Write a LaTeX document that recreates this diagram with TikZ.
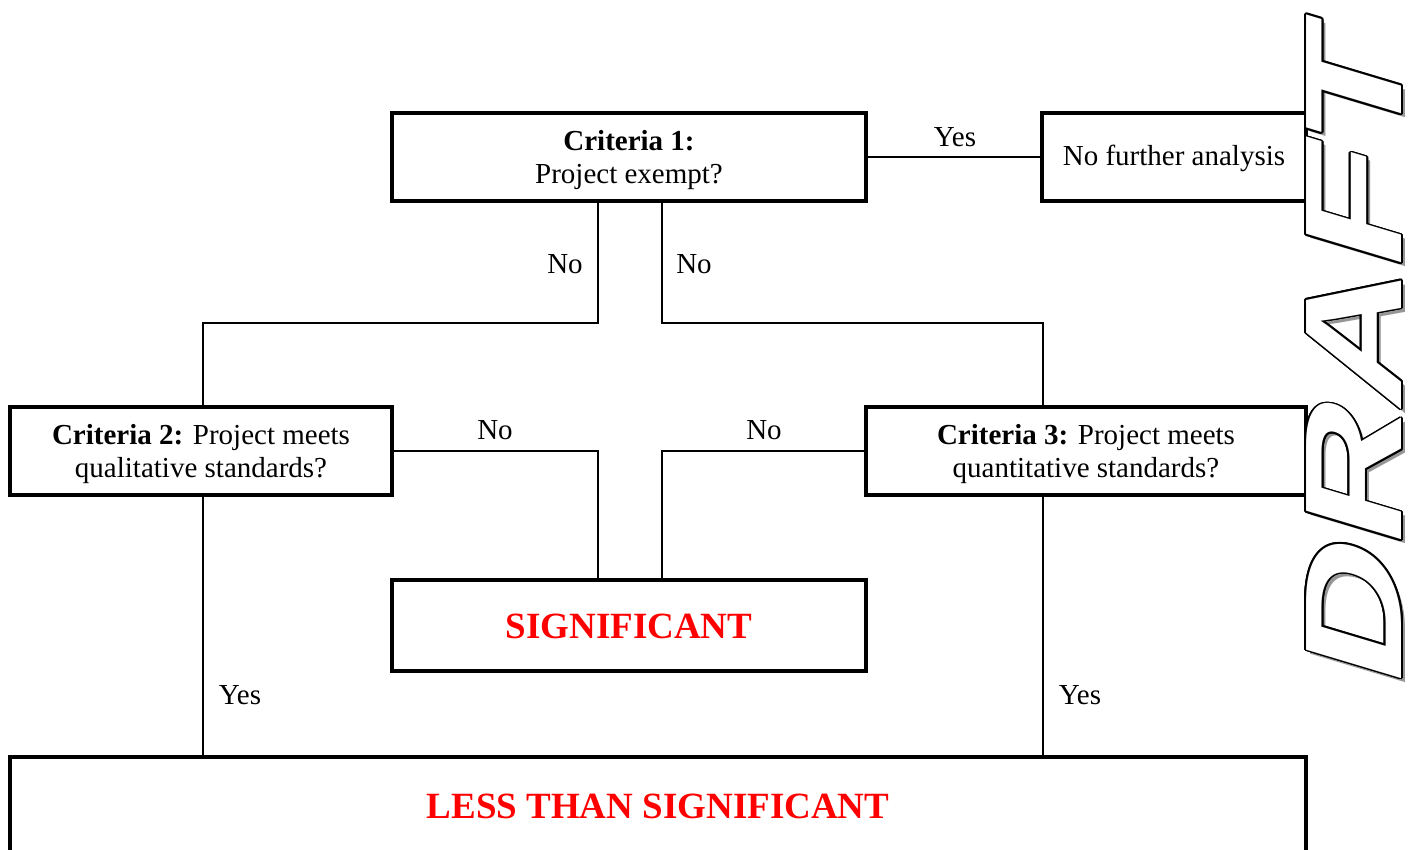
\documentclass[tikz,border=0pt]{standalone}
\usepackage{fontspec}
\setmainfont{Liberation Serif}
\newfontfamily\draftfont{Liberation Sans}
\definecolor{sigred}{RGB}{255,0,0}
\definecolor{shadowgray}{RGB}{150,150,150}
\begin{document}
\begin{tikzpicture}[x=1pt,y=-1pt,
  box/.style={draw, line width=3.2pt, inner sep=0pt, align=center, font=\fontsize{29}{33}\selectfont},
  conn/.style={line width=1.6pt},
  lbl/.style={font=\fontsize{29}{33}\selectfont, inner sep=0pt},
  redtext/.style={text=sigred, font=\fontsize{37}{40}\selectfont\bfseries},
  draftT/.style={transform shape, inner sep=0pt, font=\draftfont\bfseries\fontsize{138}{138}\selectfont}]
\useasboundingbox (0,0) rectangle (1415,849);
\clip (0,0) rectangle (1415,849);
\fill[white] (0,0) rectangle (1415,849);

% boxes
\node[box, minimum width=474pt, minimum height=88pt] (c1) at (629,157) {\rule{0pt}{26pt}\textbf{Criteria 1:}\\Project exempt?};
\node[box, minimum width=264pt, minimum height=88pt] (nfa) at (1174,157) {\rule{0pt}{24pt}No further analysis};
\node[box, minimum width=382pt, minimum height=88pt] (c2) at (201,451) {\rule{0pt}{26pt}\textbf{Criteria 2:} Project meets\\qualitative standards?};
\node[box, minimum width=440pt, minimum height=88pt] (c3) at (1086,451) {\rule{0pt}{26pt}\textbf{Criteria 3:} Project meets\\quantitative standards?};
\node[box, redtext, minimum width=474pt, minimum height=91pt] (sig) at (629,625.5) {\rule{0pt}{27pt}SIGNIFICANT};
\node[box, redtext, minimum width=1296pt, minimum height=98pt] (less) at (658,806) {LESS THAN SIGNIFICANT};

% helper coordinates
\coordinate (a) at (598,323);
\coordinate (b) at (662,323);
\coordinate (l) at (203,0);
\coordinate (r) at (1043,0);

% connectors
\draw[conn] (c1.east) -- (nfa.west);
\draw[conn] (c1.south -| a) -- (a) -- (a -| l) -- (l |- c2.north);
\draw[conn] (c1.south -| b) -- (b) -- (b -| r) -- (r |- c3.north);
\draw[conn] (c2.east) -| (sig.north -| a);
\draw[conn] (c3.west) -| (sig.north -| b);
\draw[conn] (l |- c2.south) -- (l |- less.north);
\draw[conn] (r |- c3.south) -- (r |- less.north);

% labels
\node[lbl] (y1) at (955,137) {Yes};
\node[lbl] (n1) at (565,264) {No};
\node[lbl] (n2) at (694,264) {No};
\node[lbl] (n3) at (495,430) {No};
\node[lbl] (n4) at (764,430) {No};
\node[lbl] (y2) at (240,695) {Yes};
\node[lbl] (y3) at (1080,695) {Yes};

% DRAFT watermark
\begin{scope}[shift={(1358,356)}, rotate=90, xslant=0.3, xscale=1.39]
  \node[draftT, text=shadowgray] (dshadow) {DRAFT};
\end{scope}
\foreach \ang in {0,22.5,...,337.5}{
  \begin{scope}[shift={(1354,352)}, shift={(\ang:1.7)}, rotate=90, xslant=0.3, xscale=1.39]
    \node[draftT, text=black] {DRAFT};
  \end{scope}
}
\begin{scope}[shift={(1354,352)}, rotate=90, xslant=0.3, xscale=1.39]
  \node[draftT, text=white] (dfront) {DRAFT};
\end{scope}
\end{tikzpicture}
\end{document}
